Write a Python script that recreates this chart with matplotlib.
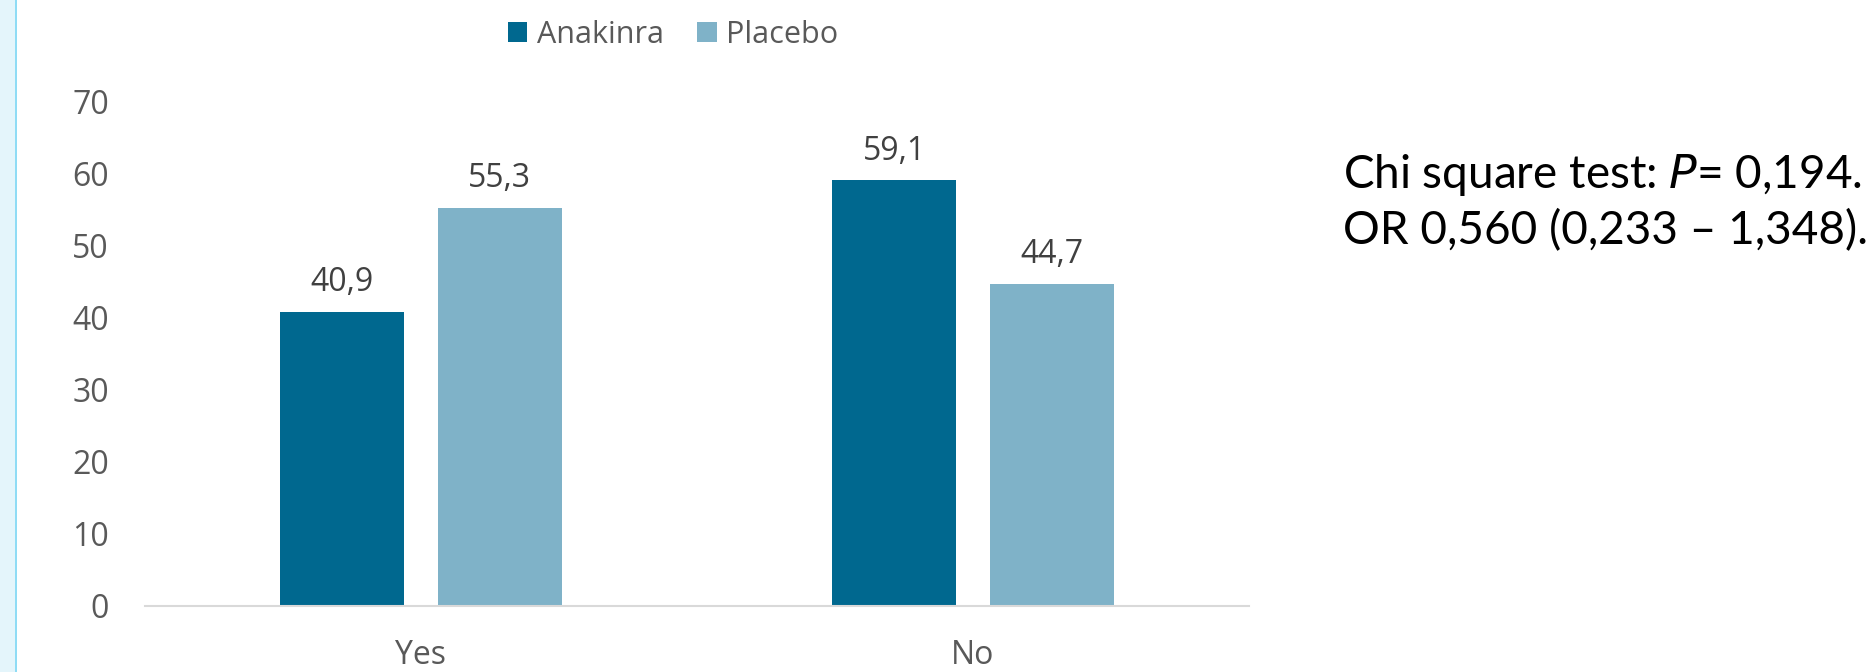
import matplotlib
matplotlib.use("Agg")
import matplotlib.pyplot as plt
from matplotlib.patches import Rectangle
import numpy as np

# Data
categories = ["Yes", "No"]
series_names = ["Anakinra", "Placebo"]
anakinra = [40.9, 59.1]
placebo = [55.3, 44.7]
y_ticks = [0, 10, 20, 30, 40, 50, 60, 70]
stats_lines = ["Chi square test: $\\mathit{P}$= 0,194.", "OR 0,560 (0,233 \u2013 1,348)."]

colors = ["#00688f", "#7fb2c8"]
text_grey = "#595959"
label_grey = "#404040"

W, H, DPI = 1874, 672, 100
fig = plt.figure(figsize=(W / DPI, H / DPI), dpi=DPI)
fig.patch.set_facecolor("white")

# Light side band with an accent line at the left edge
fig.patches.append(Rectangle((0, 0), 15 / W, 1, transform=fig.transFigure,
                             facecolor="#e4f5fb", edgecolor="none", zorder=0))
fig.patches.append(Rectangle((15 / W, 0), 2 / W, 1, transform=fig.transFigure,
                             facecolor="#8fdcf5", edgecolor="none", zorder=0))

ax_left, ax_right = 145 / W, 1249 / W
ax_bottom, ax_top = (H - 606) / H, (H - 102) / H
ax = fig.add_axes([ax_left, ax_bottom, ax_right - ax_left, ax_top - ax_bottom])

font = "Open Sans"
fs = 23
x = np.arange(len(categories))
width = 0.225
offset = 0.143

bars = []
for i, (vals, name, c) in enumerate(zip([anakinra, placebo], series_names, colors)):
    pos = x + (offset if i else -offset)
    b = ax.bar(pos, vals, width=width, color=c, label=name, zorder=2)
    bars.append(b)
    for xi, v in zip(pos, vals):
        ax.annotate(f"{v:.1f}".replace(".", ","), (xi, v), xytext=(0, 15),
                    textcoords="offset points", ha="center", va="baseline",
                    fontsize=fs, family=font, color=label_grey)

ax.set_xlim(-0.5, 1.5)
ax.set_ylim(0, 70)
ax.set_yticks(y_ticks)
ax.set_yticklabels([str(t) for t in y_ticks], family=font, fontsize=fs, color=text_grey)
ax.set_xticks(x)
ax.set_xticklabels(categories, family=font, fontsize=fs, color=text_grey)
ax.tick_params(axis="y", length=0, pad=26)
ax.tick_params(axis="x", length=0, pad=24)
for s in ["top", "right", "left"]:
    ax.spines[s].set_visible(False)
ax.spines["bottom"].set_color("#d9d9d9")
ax.spines["bottom"].set_linewidth(1.5)
ax.set_facecolor("none")

leg = fig.legend(handles=bars, labels=series_names, loc="center",
                 bbox_to_anchor=(673 / W, 1 - 35 / H), ncol=2, frameon=False,
                 prop={"family": font, "size": 22}, handlelength=0.65,
                 handleheight=0.65, handletextpad=0.3, columnspacing=1.1)
for t in leg.get_texts():
    t.set_color(text_grey)

fig.text(1343 / W, 1 - 188 / H, stats_lines[0], family="Lato", fontsize=33,
         color="black", ha="left", va="baseline")
fig.text(1343 / W, 1 - 244 / H, stats_lines[1], family="Lato", fontsize=33,
         color="black", ha="left", va="baseline")

fig.savefig("out.png", dpi=DPI)
